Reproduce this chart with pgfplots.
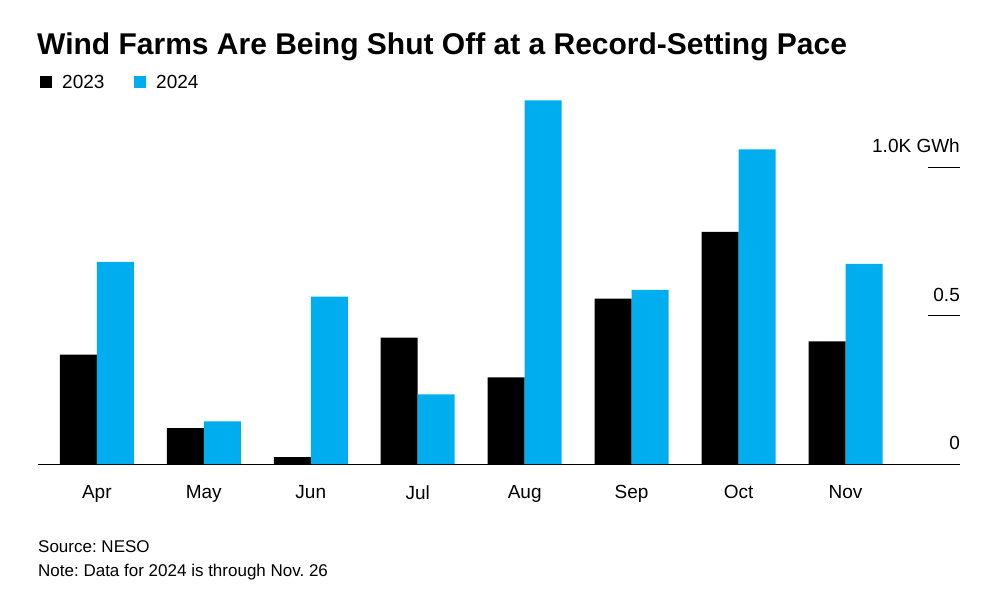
\documentclass[border=0pt]{standalone}
\usepackage{pgfplots}
\pgfplotsset{compat=1.18}
\usepackage{fontspec}
\setmainfont{Liberation Sans}
\definecolor{bblue}{HTML}{00AEEF}
\begin{document}
\frenchspacing
\begin{tikzpicture}[x=1pt,y=1pt]
\path[use as bounding box,fill=white] (0,0) rectangle (1008,611);
\node[anchor=base west,inner sep=0,font=\fontsize{30}{34}\selectfont\bfseries] at (37,556) {Wind Farms Are Being Shut Off at a Record-Setting Pace};
\fill[black] (40,523) rectangle (52,535);
\node[anchor=base west,inner sep=0,font=\fontsize{19}{21}\selectfont] at (62,522) {2023};
\fill[bblue] (134,523) rectangle (146,535);
\node[anchor=base west,inner sep=0,font=\fontsize{19}{21}\selectfont] at (156,522) {2024};
\node[anchor=base west,inner sep=0,font=\fontsize{17}{19}\selectfont] at (38,59) {Source: NESO};
\node[anchor=base west,inner sep=0,font=\fontsize{17}{19}\selectfont] at (38,35) {Note: Data for 2024 is through Nov. 26};
\begin{axis}[at={(38pt,147pt)},anchor=south west,scale only axis,width=922pt,height=365pt,
  xmin=-0.55,xmax=8.07,ymin=0,ymax=1.23,
  axis y line=none, axis x line*=bottom, x axis line style={-,thick},
  xtick={0,...,7}, xticklabels={Apr,May,Jun,Jul,Aug,Sep,Oct,Nov},
  major tick length=0pt,
  xticklabel style={font=\fontsize{19}{21}\selectfont,yshift=-18pt},
  bar width=37pt, clip=false]
\addplot[ybar,fill=black,draw=none,bar shift=-18.5pt] coordinates {(0,0.369)(1,0.121)(2,0.023)(3,0.426)(4,0.292)(5,0.557)(6,0.782)(7,0.413)};
\addplot[ybar,fill=bblue,draw=none,bar shift=18.5pt] coordinates {(0,0.681)(1,0.144)(2,0.564)(3,0.235)(4,1.225)(5,0.587)(6,1.060)(7,0.674)};
\draw (axis cs:7.77,1) -- (axis cs:8.07,1);
\draw (axis cs:7.77,0.5) -- (axis cs:8.07,0.5);
\node[anchor=south east,inner sep=0,yshift=14pt,font=\fontsize{19}{21}\selectfont] at (axis cs:8.07,1) {1.0K GWh};
\node[anchor=south east,inner sep=0,yshift=14pt,font=\fontsize{19}{21}\selectfont] at (axis cs:8.07,0.5) {0.5};
\node[anchor=south east,inner sep=0,yshift=14pt,font=\fontsize{19}{21}\selectfont] at (axis cs:8.07,0) {0};
\end{axis}
\end{tikzpicture}
\end{document}
